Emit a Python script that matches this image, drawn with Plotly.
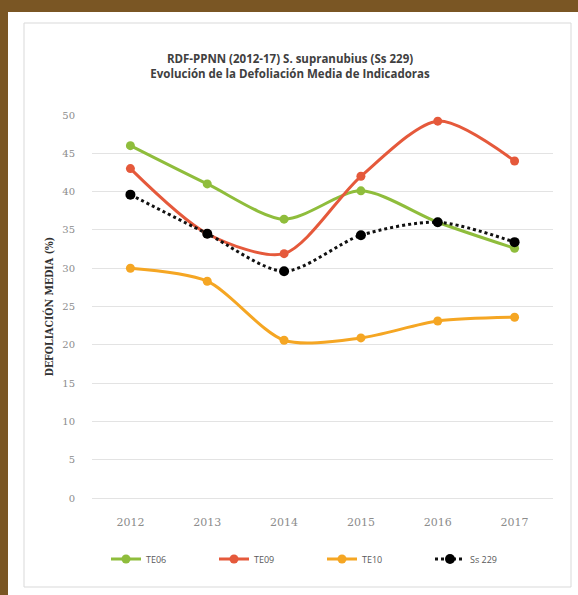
import plotly.graph_objects as go

years = ["2012", "2013", "2014", "2015", "2016", "2017"]
te06 = [46.0, 41.0, 36.4, 40.1, 36.0, 32.6]
te09 = [43.0, 34.5, 31.9, 42.0, 49.2, 44.0]
te10 = [30.0, 28.3, 20.6, 20.9, 23.1, 23.6]
ss229 = [39.6, 34.5, 29.6, 34.3, 36.0, 33.4]
yticks = [0, 5, 10, 15, 20, 25, 30, 35, 40, 45, 50]

W, H = 578, 595
L, R, T, B = 92, 553, 115, 498
pw, ph = R - L, B - T
BROWN = "#7a5624"

def px(x):
    return (x - L) / pw

def py(y):
    return (B - y) / ph

fig = go.Figure()
series = [
    ("TE06", te06, "#8fbd3c"),
    ("TE09", te09, "#e5593b"),
    ("TE10", te10, "#f5a623"),
]
for name, vals, col in series:
    fig.add_trace(go.Scatter(
        x=years, y=vals, name=name, mode="lines+markers",
        line=dict(color=col, width=3, shape="spline", smoothing=0.8),
        marker=dict(color=col, size=9),
    ))
fig.add_trace(go.Scatter(
    x=years, y=ss229, name="Ss 229", mode="lines+markers",
    line=dict(color="#111111", width=3, shape="spline", smoothing=0.8, dash="dot"),
    marker=dict(color="#000000", size=10),
))

fig.update_layout(
    width=W, height=H,
    margin=dict(l=L, r=W - R, t=T, b=H - B, pad=0),
    paper_bgcolor=BROWN,
    plot_bgcolor="white",
    font=dict(family="DejaVu Serif", color="#8c8c8c", size=11),
    title=dict(
        text="RDF-PPNN (2012-17) S. supranubius (Ss 229)<br>Evolución de la Defoliación Media de Indicadoras",
        x=290 / W, xanchor="center", y=1 - 63 / H, yanchor="middle", yref="container",
        font=dict(family="Open Sans", size=11.5, color="#404040", weight="bold"),
    ),
    showlegend=True,
    legend=dict(
        orientation="h", x=px(106), xanchor="left", y=py(559), yanchor="middle",
        font=dict(family="Open Sans", size=9, color="#595959"),
        entrywidth=63, entrywidthmode="pixels", bgcolor="rgba(0,0,0,0)",
        traceorder="normal",
    ),
    shapes=[
        dict(type="rect", xref="paper", yref="paper", x0=px(8), x1=px(590), y0=py(610), y1=py(12),
             fillcolor="white", line=dict(width=0), layer="below"),
        dict(type="rect", xref="paper", yref="paper", x0=px(24), x1=px(571), y0=py(587), y1=py(23),
             fillcolor="rgba(0,0,0,0)", line=dict(width=1, color="#d9d9d9"), layer="below"),
    ],
)
fig.update_xaxes(
    type="category", range=[-0.5, 5.5], showgrid=False, showline=False, zeroline=False,
    ticks="", tickfont=dict(family="DejaVu Serif", size=11, color="#8c8c8c"),
    ticklabelstandoff=16,
)
fig.update_yaxes(
    range=[0, 50], tickvals=yticks, showgrid=True, gridcolor="#e3e3e3", gridwidth=1,
    zeroline=True, zerolinecolor="#e3e3e3", zerolinewidth=1, showline=False, ticks="",
    tickfont=dict(family="DejaVu Serif", size=10, color="#8c8c8c"),
    ticklabelstandoff=16,
    title=dict(text="DEFOLIACIÓN MEDIA (%)", standoff=6,
               font=dict(family="DejaVu Serif Condensed", size=10.5, color="#303030", weight="bold")),
)

fig.write_html(
    "out.html",
    config={"displayModeBar": False},
    post_script="document.body.style.margin='0';document.body.style.background='%s';" % BROWN,
)
